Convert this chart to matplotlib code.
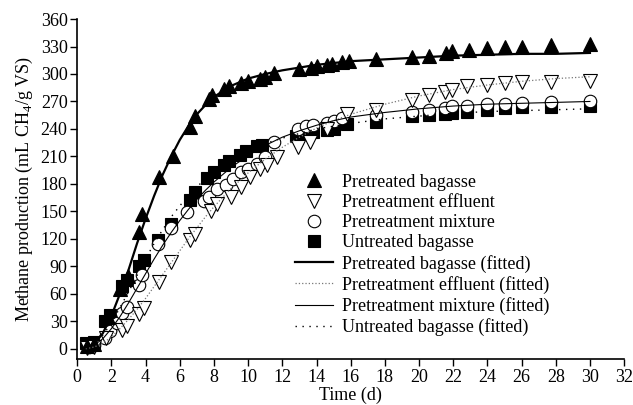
import numpy as np
import matplotlib.pyplot as plt

plt.rcParams['font.family'] = ['Liberation Serif', 'DejaVu Serif']
plt.rcParams['mathtext.fontset'] = 'custom'
plt.rcParams['mathtext.rm'] = 'Liberation Serif'

# measured data
t_pb = [0.6, 1.0, 1.8, 2.5, 3.0, 3.6, 3.8, 4.8, 5.6, 6.6, 6.9, 7.7, 7.9, 8.6, 8.9, 9.6, 10.0,
        10.7, 11.0, 11.5, 13.0, 13.7, 14.0, 14.6, 14.9, 15.5, 15.9, 17.5, 19.6, 20.6, 21.6,
        21.9, 22.9, 24.0, 25.0, 26.0, 27.7, 30.0]
v_pb = [3, 5, 35, 65, 79, 127, 147, 188, 211, 242, 254, 273, 277, 284, 287, 290, 292,
        295, 297, 301, 305, 307, 309, 310, 311, 313, 314, 316, 319, 320, 323,
        325, 326, 328, 329, 330, 332, 333]

t_pe = [0.6, 1.0, 1.7, 2.6, 2.9, 3.6, 3.9, 4.8, 5.5, 6.6, 6.9, 7.8, 8.2, 9.0, 9.6, 10.1,
        10.7, 11.1, 11.7, 12.9, 13.6, 14.6, 15.8, 17.5, 19.6, 20.6, 21.5, 21.9, 22.8, 24.0,
        25.0, 26.0, 27.7, 30.0]
v_pe = [1, 2, 12, 20, 25, 38, 45, 73, 95, 119, 125, 150, 158, 166, 177, 187,
        196, 201, 209, 220, 226, 240, 256, 261, 272, 277, 280, 283, 287, 288,
        290, 291, 291, 292]

t_pm = [0.7, 1.0, 1.6, 1.9, 2.3, 2.6, 2.9, 3.6, 3.8, 4.7, 5.5, 6.4, 7.4, 7.7, 8.2, 8.7, 9.1,
        9.6, 10.0, 10.5, 11.0, 11.5, 12.9, 13.4, 13.8, 14.6, 15.0, 15.5, 17.5, 19.6, 20.6,
        21.5, 21.9, 22.8, 24.0, 25.0, 26.0, 27.7, 30.0]
v_pm = [2, 4, 12, 19, 28, 39, 46, 70, 81, 114, 132, 149, 161, 166, 174, 179, 185,
        193, 196, 202, 209, 226, 240, 243, 244, 247, 249, 252, 255, 259, 261,
        263, 265, 265, 267, 267, 268, 269, 270]

t_ub = [0.5, 1.0, 1.6, 1.9, 2.6, 2.9, 3.6, 3.9, 4.7, 5.5, 6.6, 6.9, 7.6, 8.0, 8.6, 8.9, 9.5,
        9.9, 10.5, 10.8, 12.8, 13.4, 13.8, 14.6, 15.0, 15.8, 17.5, 19.6, 20.6, 21.5, 21.9,
        22.8, 24.0, 25.0, 26.0, 27.7, 30.0]
v_ub = [6, 7, 30, 37, 68, 75, 90, 97, 119, 136, 162, 171, 186, 193, 201, 205, 212,
        216, 221, 223, 232, 235, 237, 239, 240, 245, 248, 254, 255, 256, 257,
        258, 261, 263, 264, 264, 265]

# fitted curves
t_fit = [0.5, 1, 1.5, 2, 2.5, 3, 3.5, 4, 4.5, 5, 5.5, 6, 6.5, 7, 7.5, 8, 9, 10, 11, 12,
         13, 14, 15, 16, 18, 20, 22, 24, 26, 28, 30]
f_pb = [1, 5, 17, 36, 60, 86, 115, 142, 167, 190, 210, 228, 243, 256, 266, 275, 287, 295,
        300, 304, 307, 310, 312, 314, 316, 318, 320, 321, 322, 322, 323]
f_pe = [0, 2, 6, 13, 22, 32, 43, 55, 68, 81, 94, 107, 120, 132, 144, 155, 175, 192,
        207, 220, 231, 241, 249, 256, 267, 276, 283, 288, 292, 295, 297]
f_pm = [1, 4, 11, 22, 35, 50, 66, 82, 98, 113, 127, 140, 152, 163, 173, 182, 198, 211,
        222, 231, 238, 244, 249, 253, 258, 262, 265, 267, 268, 269, 270]
f_ub = [1, 5, 15, 28, 45, 62, 80, 98, 115, 130, 144, 156, 167, 177, 185, 193, 206, 216,
        224, 230, 235, 240, 243, 246, 251, 254, 257, 259, 260, 261, 262]

fig = plt.figure(figsize=(6.33, 4.05), dpi=100)
ax = fig.add_axes([0.122, 0.114, 0.864, 0.839])

ax.plot(t_ub, v_ub, 's', ms=8, color='black', mec='black', mew=0.8,
        label='Untreated bagasse', zorder=3)
ax.plot(t_pm, v_pm, 'o', ms=9, mfc='white', mec='black', mew=0.8,
        label='Pretreatment mixture', zorder=4)
ax.plot(t_pe, v_pe, 'v', ms=9.5, mfc='white', mec='black', mew=0.8,
        label='Pretreatment effluent', zorder=5)
ax.plot(t_pb, v_pb, '^', ms=9.5, color='black', mec='black', mew=0.8,
        label='Pretreated bagasse', zorder=6)

ax.plot(t_fit, f_pb, '-', color='black', lw=1.6, label='Pretreated bagasse (fitted)', zorder=7)
ax.plot(t_fit, f_pe, ':', color='#777777', lw=0.9, label='Pretreatment effluent (fitted)', zorder=7)
ax.plot(t_fit, f_pm, '-', color='black', lw=0.8, label='Pretreatment mixture (fitted)', zorder=7)
ax.plot(t_fit, f_ub, linestyle=(0, (1, 4)), color='black', lw=1.0,
        label='Untreated bagasse (fitted)', zorder=7)

handles, labels = ax.get_legend_handles_labels()
order = [3, 2, 1, 0, 4, 5, 6, 7]
ax.legend([handles[i] for i in order], [labels[i] for i in order],
          loc='upper left', bbox_to_anchor=(0.398, 0.545), frameon=False,
          fontsize=13, handlelength=2.1, handletextpad=0.5, labelspacing=0.18,
          borderaxespad=0, borderpad=0, numpoints=1)

ax.set_xlim(0, 32)
ax.set_ylim(-11, 360)
ax.set_xticks(np.arange(0, 33, 2))
ax.set_yticks(np.arange(0, 361, 30))
ax.tick_params(direction='out', length=5, width=1, labelsize=13, pad=2)
ax.spines['top'].set_visible(False)
ax.spines['right'].set_visible(False)
ax.spines['left'].set_linewidth(1.2)
ax.spines['bottom'].set_linewidth(1.2)

ax.set_xlabel('Time (d)', fontsize=13, labelpad=1)
ax.set_ylabel('Methane production (mL CH$_4$/g VS)', fontsize=13, labelpad=4)

fig.savefig('out.png', dpi=100)
